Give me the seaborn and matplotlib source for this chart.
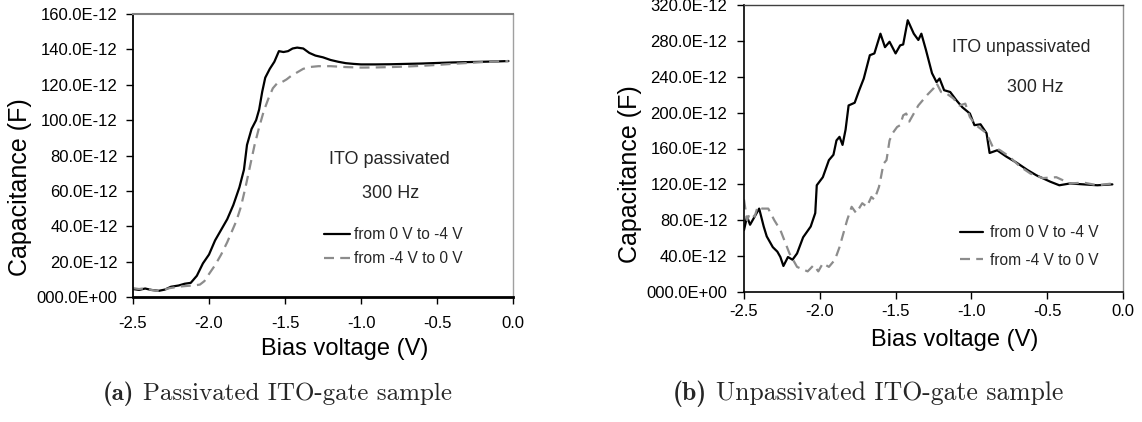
import numpy as np
import pandas as pd
import matplotlib
matplotlib.use("Agg")
import matplotlib.pyplot as plt
import seaborn as sns

# ---------------- data (capacitance in pF) ----------------
# (a) passivated, black: from 0 V to -4 V
pa_fwd_v = [-2.50, -2.46, -2.42, -2.38, -2.33, -2.29, -2.25, -2.20, -2.16, -2.12, -2.08, -2.04,
            -2.00, -1.96, -1.92, -1.88, -1.84, -1.80, -1.77, -1.75, -1.72, -1.69, -1.67, -1.65,
            -1.63, -1.60, -1.57, -1.54, -1.51, -1.48, -1.45, -1.42, -1.38, -1.34, -1.30, -1.25,
            -1.20, -1.15, -1.10, -1.05, -1.00, -0.90, -0.80, -0.70, -0.60, -0.50, -0.40, -0.30,
            -0.20, -0.10, -0.03]
pa_fwd_c = [4.5, 4.0, 4.8, 4.0, 3.5, 4.2, 5.8, 6.5, 7.5, 8.0, 12, 19,
            24, 32, 38, 44, 52, 62, 72, 86, 95, 100, 106, 116,
            124, 129, 133, 139, 138.5, 139, 140.5, 141, 140.5, 138, 136.5, 135.5,
            134, 133, 132.2, 131.8, 131.5, 131.5, 131.6, 131.8, 132.0, 132.3, 132.6, 132.8,
            133.0, 133.2, 133.4]
# (a) passivated, grey: from -4 V to 0 V
pa_rev_v = [-2.50, -2.46, -2.42, -2.38, -2.34, -2.30, -2.26, -2.22, -2.18, -2.14, -2.10, -2.06,
            -2.03, -2.00, -1.96, -1.92, -1.88, -1.85, -1.82, -1.79, -1.76, -1.73, -1.70, -1.67,
            -1.64, -1.61, -1.58, -1.55, -1.52, -1.49, -1.46, -1.42, -1.38, -1.34, -1.28, -1.20,
            -1.10, -1.00, -0.90, -0.80, -0.70, -0.60, -0.50, -0.40, -0.30, -0.20, -0.10, -0.03]
pa_rev_c = [5.0, 4.5, 5.0, 4.0, 3.5, 4.0, 5.0, 5.5, 6.0, 6.3, 6.5, 7.0,
            9, 13, 18, 24, 31, 37, 43, 51, 62, 74, 86, 96,
            105, 112, 118, 121, 121.5, 123, 125, 127, 129, 130, 130.5, 130.5,
            130, 129.7, 129.8, 130, 130.3, 130.7, 131.2, 131.8, 132.3, 132.8, 133.2, 133.4]

# (b) unpassivated, black: from 0 V to -4 V
ua_fwd_v = [-2.50, -2.48, -2.46, -2.43, -2.40, -2.37, -2.35, -2.31, -2.28, -2.26, -2.24, -2.21,
            -2.18, -2.15, -2.11, -2.06, -2.03, -2.02, -1.98, -1.94, -1.91, -1.89, -1.87, -1.85,
            -1.83, -1.81, -1.77, -1.74, -1.71, -1.67, -1.64, -1.60, -1.57, -1.54, -1.50, -1.47,
            -1.45, -1.42, -1.38, -1.35, -1.33, -1.30, -1.26, -1.23, -1.21, -1.18, -1.14, -1.10,
            -1.06, -1.01, -0.98, -0.94, -0.90, -0.88, -0.83, -0.77, -0.70, -0.63, -0.57, -0.48,
            -0.42, -0.35, -0.26, -0.17, -0.07]
ua_fwd_c = [69, 84, 75, 84, 93, 73, 62, 50, 45, 39, 29, 39,
            36, 43, 61, 73, 88, 119, 128, 147, 153, 169, 173, 164,
            181, 208, 211, 225, 238, 264, 266, 288, 273, 279, 266, 275,
            276, 303, 288, 281, 288, 270, 244, 234, 238, 225, 223, 214,
            206, 199, 186, 187, 177, 155, 158, 151, 144, 136, 130, 123,
            119, 121, 120, 119, 120]
# (b) unpassivated, grey: from -4 V to 0 V
ua_rev_v = [-2.50, -2.48, -2.46, -2.43, -2.41, -2.38, -2.34, -2.30, -2.26, -2.20, -2.15, -2.11,
            -2.08, -2.04, -2.01, -1.98, -1.94, -1.90, -1.87, -1.82, -1.79, -1.76, -1.72, -1.69,
            -1.66, -1.64, -1.61, -1.60, -1.58, -1.56, -1.54, -1.52, -1.49, -1.47, -1.45, -1.43,
            -1.41, -1.38, -1.35, -1.32, -1.29, -1.25, -1.23, -1.20, -1.17, -1.12, -1.08, -1.04,
            -1.01, -0.97, -0.90, -0.86, -0.81, -0.75, -0.68, -0.61, -0.53, -0.44, -0.35, -0.26,
            -0.17, -0.07]
ua_rev_c = [103, 80, 88, 84, 95, 93, 93, 80, 69, 43, 28, 25,
            23, 30, 23, 32, 28, 36, 50, 80, 95, 88, 99, 95,
            106, 103, 117, 125, 143, 147, 169, 177, 184, 186, 197, 199,
            190, 199, 208, 214, 220, 227, 233, 223, 222, 216, 208, 210,
            195, 186, 177, 162, 158, 151, 140, 132, 127, 128, 121, 122,
            119, 121]

x_ticks = [-2.5, -2.0, -1.5, -1.0, -0.5, 0.0]
x_tick_labels = ["-2.5", "-2.0", "-1.5", "-1.0", "-0.5", "0.0"]
ya_ticks = [0, 20, 40, 60, 80, 100, 120, 140, 160]
ya_tick_labels = ["000.0E+00", "20.0E-12", "40.0E-12", "60.0E-12", "80.0E-12",
                  "100.0E-12", "120.0E-12", "140.0E-12", "160.0E-12"]
yb_ticks = [0, 40, 80, 120, 160, 200, 240, 280, 320]
yb_tick_labels = ["000.0E+00", "40.0E-12", "80.0E-12", "120.0E-12", "160.0E-12",
                  "200.0E-12", "240.0E-12", "280.0E-12", "320.0E-12"]
series_labels = ["from 0 V to -4 V", "from -4 V to 0 V"]

# ---------------- style ----------------
sns.set_theme(style="white")
plt.rcParams["font.family"] = ["Liberation Sans", "DejaVu Sans"]

fig = plt.figure(figsize=(11.42, 4.22), dpi=100)
W, H = 1142, 422
def add_axes(l, t, r, b):
    return fig.add_axes([l / W, 1 - b / H, (r - l) / W, (b - t) / H])

axA = add_axes(133, 14, 513, 297)
axB = add_axes(744, 5, 1123, 292)

BLACK = "#000000"
GREY = "#8c8c8c"

def draw(ax, v1, c1, v2, c2):
    sns.lineplot(x=v1, y=c1, ax=ax, color=BLACK, linewidth=1.6, label=series_labels[0],
                 sort=False, estimator=None)
    sns.lineplot(x=v2, y=c2, ax=ax, color=GREY, linewidth=1.6, label=series_labels[1],
                 sort=False, estimator=None)
    ax.lines[1].set_dashes([4.5, 2.8])

draw(axA, pa_fwd_v, pa_fwd_c, pa_rev_v, pa_rev_c)
draw(axB, ua_fwd_v, ua_fwd_c, ua_rev_v, ua_rev_c)

for ax, yt, ytl, ymax in [(axA, ya_ticks, ya_tick_labels, 160), (axB, yb_ticks, yb_tick_labels, 320)]:
    ax.set_xlim(-2.5, 0.0)
    ax.set_ylim(0, ymax)
    ax.set_xticks(x_ticks)
    ax.set_xticklabels(x_tick_labels)
    ax.set_yticks(yt)
    ax.set_yticklabels(ytl)
    ax.tick_params(axis="both", direction="out", length=5, width=1, color="black",
                   labelsize=12, labelcolor="black", left=True, bottom=True)
    ax.set_xlabel("Bias voltage (V)", fontsize=17, color="black")
    ax.set_ylabel("Capacitance (F)", fontsize=18, color="black")
    ax.grid(False)

axA.tick_params(axis="x", pad=8.5)
axA.tick_params(axis="y", pad=6)
axB.tick_params(axis="x", pad=3.5)
axB.tick_params(axis="y", pad=7)

axA.xaxis.set_label_coords(0.558, -0.145)
axB.xaxis.set_label_coords(0.557, -0.13)
axA.yaxis.set_label_coords(-0.266, 0.389)
axB.yaxis.set_label_coords(-0.269, 0.411)

# spines
axA.spines["left"].set_color("black"); axA.spines["left"].set_linewidth(1.3)
axA.spines["bottom"].set_color("black"); axA.spines["bottom"].set_linewidth(2.0)
axA.spines["top"].set_color("#808080"); axA.spines["top"].set_linewidth(1.5)
axA.spines["right"].set_color("#a0a0a0"); axA.spines["right"].set_linewidth(1.0)
axB.spines["left"].set_color("black"); axB.spines["left"].set_linewidth(1.2)
axB.spines["bottom"].set_color("black"); axB.spines["bottom"].set_linewidth(1.2)
axB.spines["top"].set_color("#404040"); axB.spines["top"].set_linewidth(1.0)
axB.spines["right"].set_color("#909090"); axB.spines["right"].set_linewidth(1.0)

# annotations (pixel coords, origin top-left)
def ftext(x, y, s, **kw):
    return fig.text(x / W, 1 - y / H, s, **kw)

ftext(389, 160, "ITO passivated", fontsize=13, ha="center", va="center")
ftext(391, 193, "300 Hz", fontsize=13, ha="center", va="center")
ftext(1021, 47, "ITO unpassivated", fontsize=12.8, ha="center", va="center")
ftext(1035, 88, "300 Hz", fontsize=12.8, ha="center", va="center")

axA.legend(loc="upper left", bbox_to_anchor=(0.503, 0.247), frameon=False, fontsize=11.2,
           handlelength=1.65, handletextpad=0.25, labelspacing=0.6, borderpad=0,
           borderaxespad=0)
axB.legend(loc="upper left", bbox_to_anchor=(0.570, 0.233), frameon=False, fontsize=11.2,
           handlelength=1.45, handletextpad=0.5, labelspacing=0.8, borderpad=0,
           borderaxespad=0)

# captions
renderer = fig.canvas.get_renderer()
for cx, lab, txt, fs in [(103, "(a)", "Passivated ITO-gate sample", 18),
                         (673, "(b)", "Unpassivated ITO-gate sample", 18.5)]:
    t1 = ftext(cx, 400, lab, fontfamily="cmb10", fontsize=fs, ha="left", va="baseline")
    bb = t1.get_window_extent(renderer=renderer)
    x_after = bb.x1 + 9
    fig.text(x_after / W, 1 - 400 / H, txt, fontfamily="cmr10", fontsize=fs, ha="left", va="baseline")

fig.savefig("out.png", dpi=100, facecolor="white")
